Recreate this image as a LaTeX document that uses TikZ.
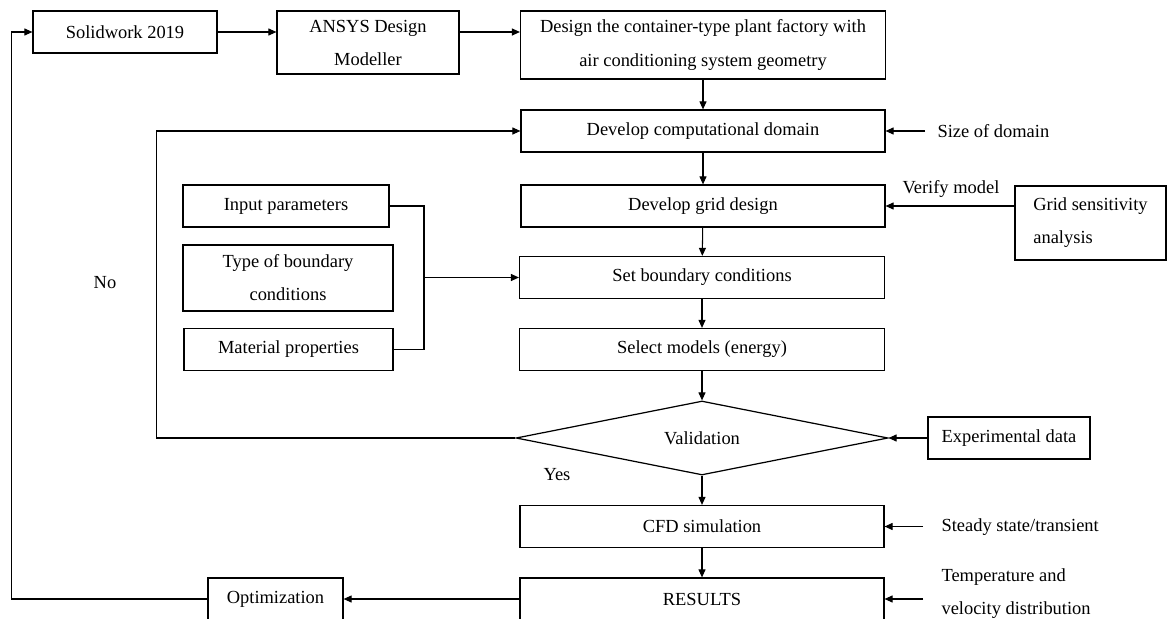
\documentclass[tikz,border=0pt]{standalone}
\usepackage{fontspec}
\setmainfont{Liberation Serif}
\usetikzlibrary{shapes.geometric,arrows.meta}

\begin{document}
\begin{tikzpicture}[x=0.02cm,y=-0.02cm,line width=0.6pt,
  box/.style={draw,line width=0.7pt,inner sep=0pt,align=center,font=\fontsize{10.5}{18.8}\selectfont,minimum height=0.84cm},
  lbl/.style={inner sep=0pt,align=left,font=\fontsize{10.5}{18.8}\selectfont},
  >={Triangle[length=1.6mm,width=1.4mm]}]
\useasboundingbox (0,0) rectangle (1167,619);
% top row
\node[box,minimum width=3.68cm] (sw) at (125,32) {Solidwork 2019};
\node[box,minimum width=3.64cm,minimum height=1.26cm] (ansys) at (368,42.5) {ANSYS Design\\Modeller};
\node[box,minimum width=7.3cm,minimum height=1.36cm] (geo) at (703,45) {Design the container-type plant factory with\\air conditioning system geometry};
% main column
\node[box,minimum width=7.28cm] (dom) at (703,131) {Develop computational domain};
\node[box,minimum width=7.28cm] (grid) at (703,206) {Develop grid design};
\node[box,minimum width=7.3cm] (bc) at (702,277.5) {Set boundary conditions};
\node[box,minimum width=7.3cm] (mod) at (702,349.5) {Select models (energy)};
\node[draw,diamond,aspect=5.03,inner sep=0pt,minimum width=7.44cm,minimum height=1.48cm,line width=0.7pt,font=\fontsize{10.5}{18.8}\selectfont] (val) at (702,438) {Validation};
\node[box,minimum width=7.28cm] (cfd) at (702,526.5) {CFD simulation};
\node[box,minimum width=7.28cm] (res) at (702,599) {RESULTS};
\node[box,minimum width=2.7cm] (opt) at (275.5,599) {Optimization};
% inputs
\node[box,minimum width=4.12cm] (inp) at (286,206) {Input parameters};
\node[box,minimum width=4.2cm,minimum height=1.32cm] (typ) at (288,278) {Type of boundary\\conditions};
\node[box,minimum width=4.18cm] (mat) at (288.5,349.5) {Material properties};
\node[box,align=left,minimum width=3.02cm,minimum height=1.48cm] (gsa) at (1090.5,223) {Grid sensitivity\\analysis};
\node[box,minimum width=3.24cm] (exp) at (1009,438) {Experimental data};
% side labels
\node[lbl,anchor=west] (sod) at (937,131) {Size of domain};
\node[lbl] (vm) at (951,189) {Verify model};
\node[lbl,anchor=west] (ss) at (941,527) {Steady state/transient};
\node[lbl,anchor=west] (tv) at (941,594) {Temperature and\\velocity distribution};
\node[lbl] (no) at (105,283) {No};
\node[lbl] (yes) at (557,475) {Yes};
\coordinate (br) at (424,277.5);

\draw[->] (sw.east) -- (sw.east -| ansys.west);
\draw[->] (ansys.east |- sw) -- (geo.west |- sw);
\draw[->] (geo) -- (dom);
\draw[->] (dom) -- (grid);
\draw[->] (grid) -- (bc);
\draw[->] (bc) -- (mod);
\draw[->] (mod) -- (val);
\draw[->] (val) -- (cfd);
\draw[->] (cfd) -- (res);
\draw[->] (val.west) -- ++(-359,0) |- (dom.west);
\draw (inp.east) -| (br) |- (mat.east);
\draw[->] (br) -- (bc.west);
\draw[->] ([xshift=-0.24cm]sod.west) -- (dom.east);
\draw[->] (gsa.west |- grid) -- (grid.east);
\draw[->] (exp) -- (val.east);
\draw[->] ([xshift=-0.36cm]ss.west |- cfd) -- (cfd.east);
\draw[->] ([xshift=-0.36cm]tv.west |- res) -- (res.east);
\draw[->] (res) -- (opt);
\draw[->] (opt.west) -- ++(-196,0) |- (sw.west);
\end{tikzpicture}
\end{document}
